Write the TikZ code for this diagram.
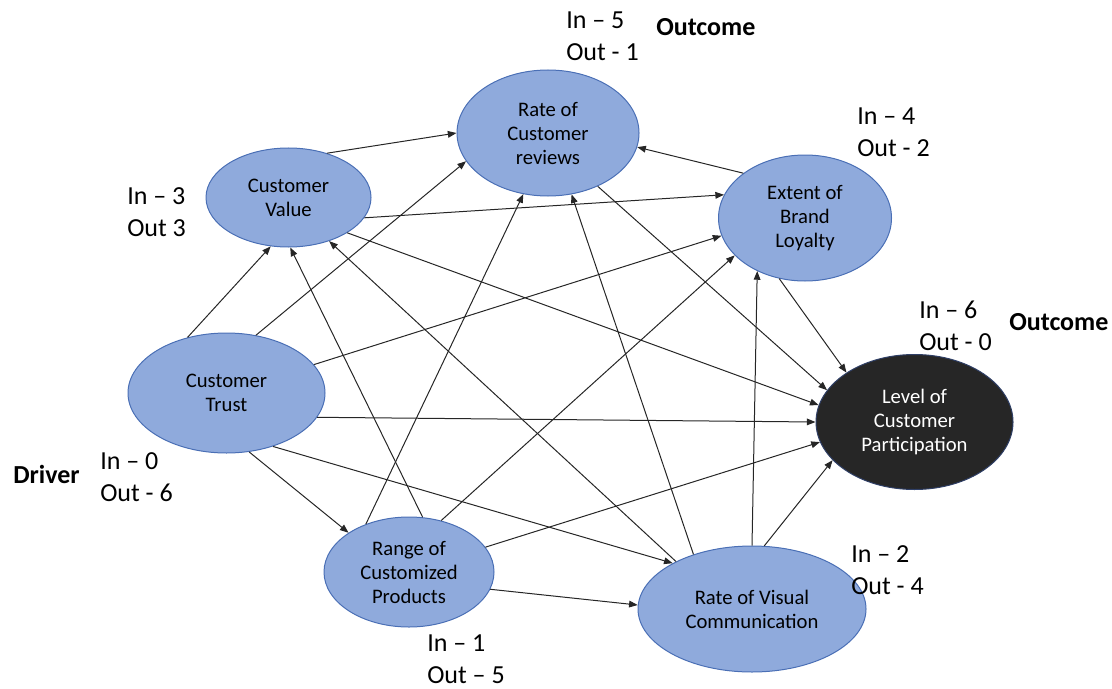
\documentclass[tikz,border=0pt]{standalone}
\usepackage{fontspec}
\setmainfont{Carlito}
\usetikzlibrary{shapes.geometric,arrows.meta}
\definecolor{nodefill}{HTML}{8FAADC}
\definecolor{nodeline}{HTML}{4A6FB5}
\definecolor{outfill}{HTML}{262626}
\definecolor{outline}{HTML}{2F3F66}
\definecolor{edgecol}{HTML}{262626}
\begin{document}
\begin{tikzpicture}[x=0.75pt,y=-0.75pt,
  factor/.style={ellipse, draw=nodeline, line width=0.75pt, fill=nodefill,
    inner sep=0pt, align=center, text=black,
    font=\fontsize{15.5}{18}\selectfont},
  finalnode/.style={factor, fill=outfill, draw=outline, text=white},
  link/.style={draw=edgecol, line width=0.75pt,
    -{Triangle[length=6.5pt,width=5pt]}},
  count/.style={anchor=west, align=left, inner sep=0pt,
    font=\fontsize{19.5}{24}\selectfont},
  role/.style={anchor=base west, inner sep=0pt,
    font=\fontsize{19.5}{24}\selectfont\bfseries}]
\useasboundingbox (0,0) rectangle (1112,688);

% factors
\node[factor, minimum width=136.5pt, minimum height=94.5pt] (rev) at (548,133) {Rate of\\Customer\\reviews};
\node[factor, minimum width=123.75pt, minimum height=74.25pt] (val) at (288.5,197.5) {Customer\\Value};
\node[factor, minimum width=129.75pt, minimum height=94.5pt] (loy) at (805,218) {Extent of\\Brand\\Loyalty};
\node[factor, minimum width=147.75pt, minimum height=90pt] (tru) at (226.5,393) {Customer\\Trust};
\node[finalnode, minimum width=147.75pt, minimum height=101.25pt] (par) at (914.5,422) {Level of\\Customer\\Participation};
\node[factor, minimum width=127.5pt, minimum height=82.5pt] (ran) at (409,572) {Range of\\Customized\\Products};
\node[factor, minimum width=171pt, minimum height=94.5pt] (vis) at (752,609) {Rate of Visual\\Communication};

% in/out degree counts
\node[count] (revcount) at (566,36.5) {In – 5\\Out - 1};
\node[count] (valcount) at (127,212.5) {In – 3\\Out 3};
\node[count] (loycount) at (857,132.5) {In – 4\\Out - 2};
\node[count] (parcount) at (919,325.5) {In – 6\\Out - 0};
\node[count] (trucount) at (100,477) {In – 0\\Out - 6};
\node[count] (rancount) at (427,659) {In – 1\\Out – 5};
\node[count] (viscount) at (851,570.5) {In – 2\\Out - 4};

% roles
\node[role] (revrole) at (656,36) {Outcome};
\node[role] (parrole) at (1009,330) {Outcome};
\node[role] (trurole) at (13,483) {Driver};

% links
\draw[link] (val.49) -- (rev.180);
\draw[link] (val.-15) -- (loy.164);
\draw[link] (val.-31) -- (par.170);
\draw[link] (loy.144) -- (rev.-9);
\draw[link] (loy.-113) -- (par.144);
\draw[link] (rev.-47) -- (par.160);
\draw[link] (tru.125) -- (val.-110);
\draw[link] (tru.63) -- (rev.-161);
\draw[link] (tru.18) -- (loy.-168);
\draw[link] (tru.-15) -- (par.180);
\draw[link] (tru.-69) -- (ran.147);
\draw[link] (tru.-49) -- (vis.150);
\draw[link] (ran.76) -- (val.-88);
\draw[link] (ran.132) -- (rev.-112);
\draw[link] (ran.58) -- (loy.-152);
\draw[link] (ran.18) -- (par.-168);
\draw[link] (ran.-12) -- (vis.178);
\draw[link] (vis.148) -- (val.-47);
\draw[link] (vis.137) -- (rev.-69);
\draw[link] (vis.90) -- (loy.-132);
\draw[link] (vis.79) -- (par.-155);
\end{tikzpicture}
\end{document}
